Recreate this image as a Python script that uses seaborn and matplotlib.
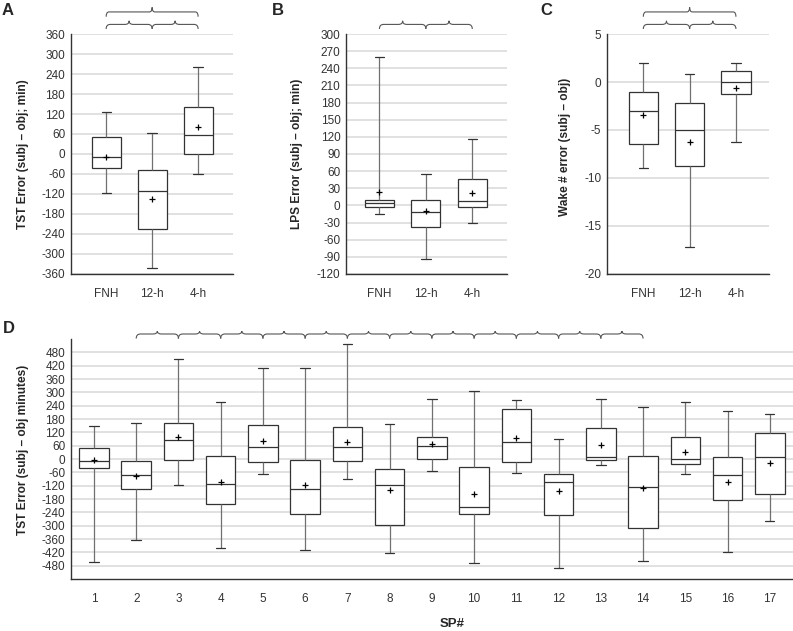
import numpy as np
import pandas as pd
import matplotlib
matplotlib.use('Agg')
import matplotlib.pyplot as plt
import matplotlib.transforms as mtransforms
from matplotlib.path import Path
from matplotlib.patches import PathPatch
import seaborn as sns

# 五数概括 + 均值
groups = ['FNH', '12-h', '4-h']

tst_low = [-116, -343, -60]
tst_q1 = [-43, -226, 0]
tst_med = [-10, -110, 58]
tst_q3 = [50, -48, 142]
tst_high = [126, 62, 262]
tst_mean = [-8, -135, 80]

lps_low = [-15, -93, -30]
lps_q1 = [-2, -38, -3]
lps_med = [5, -12, 7]
lps_q3 = [10, 10, 46]
lps_high = [260, 55, 117]
lps_mean = [24, -10, 22]

wake_low = [-9, -17.2, -6.2]
wake_q1 = [-6.5, -8.75, -1.3]
wake_med = [-3, -5, 0]
wake_q3 = [-1, -2.2, 1.1]
wake_high = [2, 0.8, 2]
wake_mean = [-3.4, -6.3, -0.6]

sp = [str(i) for i in range(1, 18)]
sp_low = [-463, -366, -117, -399, -67, -409, -88, -424, -54, -468, -61, -490, -27, -460, -69, -417, -277]
sp_q1 = [-42, -133, -3, -201, -12, -246, -7, -295, 2, -249, -12, -252, -4, -309, -24, -186, -159]
sp_med = [-9, -70, 87, -111, 52, -135, 52, -115, 57, -216, 78, -102, 10, -124, 2, -73, 10]
sp_q3 = [51, -9, 162, 15, 153, -4, 145, -45, 99, -34, 223, -66, 141, 15, 100, 7, 117]
sp_high = [148, 162, 450, 258, 408, 411, 519, 157, 268, 304, 265, 91, 268, 235, 258, 214, 204]
sp_mean = [-6, -76, 97, -105, 81, -118, 78, -138, 69, -159, 96, -142, 64, -129, 33, -102, -16]


def five_num_df(cats, low, q1, med, q3, high):
    # 每组用五个数，四分位数正好落在这五个点上
    rows = []
    for c, a, b, m, d, e in zip(cats, low, q1, med, q3, high):
        for v in (a, b, m, d, e):
            rows.append({'grp': c, 'val': v})
    return pd.DataFrame(rows)


def brace(ax, x0, x1, y0, y1, y2, rad):
    # 横向花括号：y0 两端，y1 横线，y2 中间尖
    xm = (x0 + x1) / 2
    verts = [(x0, y0), (x0, y1), (x0 + rad, y1),
             (xm - rad, y1), (xm, y1), (xm, y2),
             (xm, y1), (xm + rad, y1),
             (x1 - rad, y1), (x1, y1), (x1, y0)]
    codes = [Path.MOVETO, Path.CURVE3, Path.CURVE3, Path.LINETO,
             Path.CURVE3, Path.CURVE3, Path.CURVE3, Path.CURVE3,
             Path.LINETO, Path.CURVE3, Path.CURVE3]
    trans = mtransforms.blended_transform_factory(ax.transData, ax.transAxes)
    ax.add_patch(PathPatch(Path(verts, codes), transform=trans, fill=False,
                           edgecolor='#555555', linewidth=0.8, clip_on=False))


sns.set_style('whitegrid')
plt.rcParams['font.family'] = ['Liberation Sans Narrow', 'Liberation Sans', 'DejaVu Sans']
plt.rcParams['axes.unicode_minus'] = False
plt.rcParams['axes.edgecolor'] = '#333333'
plt.rcParams['grid.color'] = '#dcdcdc'
plt.rcParams['grid.linewidth'] = 1.2
plt.rcParams['xtick.color'] = '#333333'
plt.rcParams['ytick.color'] = '#333333'

fig = plt.figure(figsize=(7.93, 6.31), dpi=100)


def panel(rect, df, cats, means, width, ylim, yticks, xlim, ylabel, lab_x, lab_y=0.5):
    ax = fig.add_axes(rect)
    sns.boxplot(data=df, x='grp', y='val', order=cats, ax=ax, whis=(0, 100),
                width=width, color='white', linecolor='#333333', linewidth=0.9,
                showfliers=False,
                whiskerprops={'color': '#707070'},
                capprops={'color': '#333333'},
                medianprops={'color': '#333333'})
    # 缩短须线端帽（端帽比箱子窄，中位线与箱子同宽）
    for ln in ax.lines:
        xs, ys = ln.get_data()
        xs = np.asarray(xs, dtype=float)
        ys = np.asarray(ys, dtype=float)
        if len(xs) == 2 and ys[0] == ys[1]:
            half = abs(xs[1] - xs[0]) / 2
            if 0 < half < width * 0.4:
                xc = xs.mean()
                ln.set_xdata([xc - width * 0.16, xc + width * 0.16])
    sns.scatterplot(x=np.arange(len(cats)), y=means, marker='+', color='black',
                    s=22, linewidth=0.9, ax=ax, legend=False, zorder=5)
    ax.set_ylim(*ylim)
    ax.set_yticks(yticks)
    ax.set_xlim(*xlim)
    ax.grid(axis='x', visible=False)
    ax.grid(axis='y', visible=True)
    ax.set_axisbelow(True)
    for s in ('top', 'right'):
        ax.spines[s].set_visible(False)
    ax.spines['left'].set_linewidth(1.0)
    ax.spines['bottom'].set_linewidth(1.0)
    ax.tick_params(axis='y', length=3, width=0.8, pad=1, labelsize=8.5)
    ax.tick_params(axis='x', length=6, width=0.8, pad=4, labelsize=8.5)
    ax.set_xlabel('')
    ax.set_ylabel(ylabel, fontsize=8.6, fontweight='bold',
                  family=['Liberation Sans', 'DejaVu Sans'])
    ax.yaxis.set_label_coords(lab_x, lab_y)
    return ax


ax_a = panel([0.0892, 0.5658, 0.2047, 0.3803],
             five_num_df(groups, tst_low, tst_q1, tst_med, tst_q3, tst_high),
             groups, tst_mean, 0.63, (-360, 360), range(-360, 361, 60),
             (-0.77, 2.76), 'TST Error (subj – obj; min)', -0.255)
ax_b = panel([0.4363, 0.5658, 0.2026, 0.3803],
             five_num_df(groups, lps_low, lps_q1, lps_med, lps_q3, lps_high),
             groups, lps_mean, 0.63, (-120, 300), range(-120, 301, 30),
             (-0.72, 2.74), 'LPS Error (subj – obj; min)', -0.27)
ax_c = panel([0.7651, 0.5658, 0.2050, 0.3803],
             five_num_df(groups, wake_low, wake_q1, wake_med, wake_q3, wake_high),
             groups, wake_mean, 0.63, (-20, 5), range(-20, 6, 5),
             (-0.79, 2.72), 'Wake # error (subj – obj)', -0.222, 0.53)
ax_d = panel([0.0892, 0.0824, 0.9108, 0.3803],
             five_num_df(sp, sp_low, sp_q1, sp_med, sp_q3, sp_high),
             sp, sp_mean, 0.7, (-540, 540), range(-480, 481, 60),
             (-0.55, 16.55), 'TST Error (subj – obj minutes)', -0.058, 0.54)
ax_d.set_xlabel('SP#', fontsize=9.5, fontweight='bold',
                family=['Liberation Sans', 'DejaVu Sans'])
ax_d.xaxis.set_label_coords(0.528, -0.1625)

# 显著性花括号
for ax in (ax_a, ax_c):
    brace(ax, 0, 2, 1.072, 1.092, 1.111, 0.06)
for ax in (ax_a, ax_b, ax_c):
    brace(ax, 0, 1, 1.021, 1.040, 1.055, 0.09)
    brace(ax, 1, 2, 1.021, 1.040, 1.055, 0.09)
for i in range(1, 13):
    brace(ax_d, i, i + 1, 1.002, 1.021, 1.033, 0.1)

# 面板字母
for x, y, t in [(2, 3, 'A'), (272, 3, 'B'), (540, 3, 'C'), (3, 321, 'D')]:
    fig.text(x / 793, 1 - y / 631, t, fontsize=12, fontweight='bold', va='top',
             ha='left', family=['Liberation Sans', 'DejaVu Sans'])

fig.savefig('out.png', dpi=100)
